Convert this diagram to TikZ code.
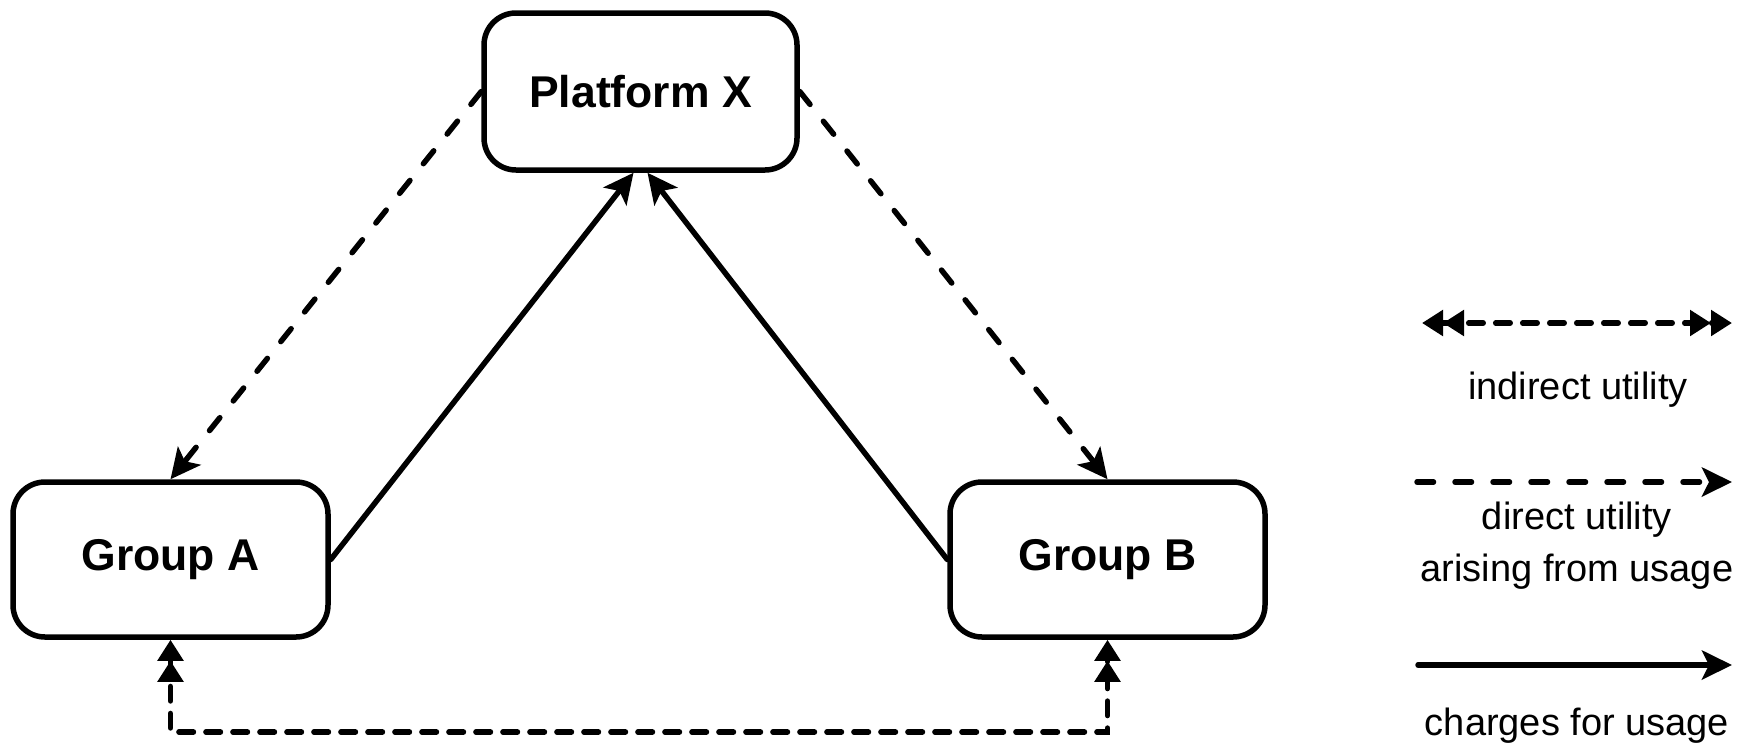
\documentclass[tikz,border=0pt]{standalone}
\usepackage{fontspec}
\setmainfont{Liberation Sans}
\usetikzlibrary{arrows.meta}
\tikzset{
  box/.style={draw, line width=5.5pt, rounded corners=32pt, minimum width=313pt, minimum height=155pt, inner sep=0pt, font=\bfseries\fontsize{44.5}{52}\selectfont},
  legtext/.style={align=center, inner sep=0pt, font=\fontsize{38}{52}\selectfont},
  conn/.style={line width=5.5pt, line cap=round},
  direct/.style={conn, dash pattern=on 16.5pt off 21.5pt},
  indirect/.style={conn, dash pattern=on 14.5pt off 12.5pt},
  headS/.style={-{Stealth[length=30pt,width=29pt,inset=7pt]}},
  dbl/.style={{Triangle[length=21pt,width=25pt]Triangle[length=21pt,width=25pt]}-{Triangle[length=21pt,width=25pt]Triangle[length=21pt,width=25pt]}}
}
\begin{document}
\begin{tikzpicture}[x=1pt,y=-1pt]
\useasboundingbox (0,0) rectangle (1742,753);
\node[box, minimum width=313pt, minimum height=157pt] (px) at (640.5,91.5) {Platform X};
\node[box, minimum width=315pt] (ga) at (170.5,559.5) {Group A};
\node[box, minimum width=315pt] (gb) at (1107.5,559.5) {Group B};

\draw[direct, headS] (px.west) -- (ga.north);
\draw[direct, headS] (px.east) -- (gb.north);
\draw[conn, headS] (ga.east) -- ([xshift=-7pt]px.south);
\draw[conn, headS] (gb.west) -- ([xshift=7pt]px.south);
\coordinate (bl) at (170.5,732);
\coordinate (br) at (1107.5,732);
\draw[indirect, dbl] (ga.south) -- (bl) -- (br) -- (gb.south);

% legend
\coordinate (l1a) at (1422,323);
\coordinate (l1b) at (1732,323);
\coordinate (l2a) at (1417,482);
\coordinate (l2b) at (1732,482);
\coordinate (l3a) at (1418,665);
\coordinate (l3b) at (1732,665);
\draw[indirect, dbl] (l1a) -- (l1b);
\draw[direct, headS] (l2a) -- (l2b);
\draw[conn, headS] (l3a) -- (l3b);
\node[legtext] (t1) at (1578,390) {indirect utility};
\node[legtext] (t2) at (1577,546) {direct utility\\arising from usage};
\node[legtext] (t3) at (1577,726) {charges for usage};
\end{tikzpicture}
\end{document}
